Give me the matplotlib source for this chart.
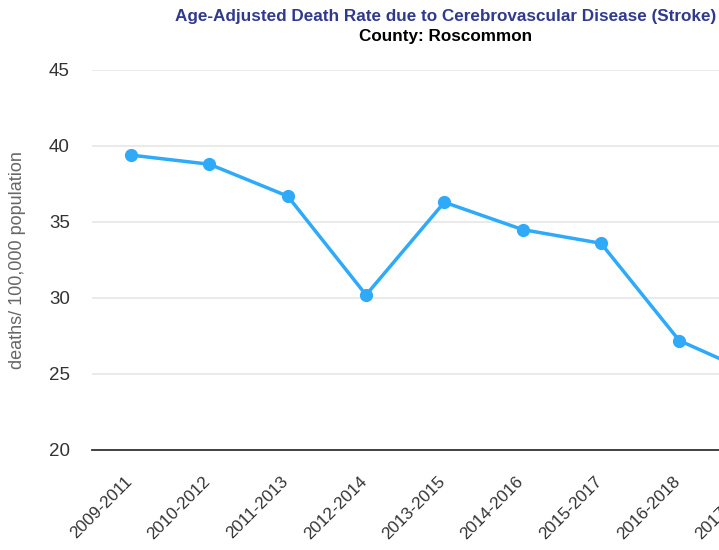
import matplotlib
matplotlib.use("Agg")
import matplotlib.pyplot as plt
from matplotlib.transforms import ScaledTranslation

categories = ["2009-2011", "2010-2012", "2011-2013", "2012-2014", "2013-2015",
              "2014-2016", "2015-2017", "2016-2018", "2017-2019"]
rates = [39.4, 38.8, 36.7, 30.2, 36.3, 34.5, 33.6, 27.2, 24.9]
yticks = [20, 25, 30, 35, 40, 45]

plt.rcParams['font.family'] = ['Liberation Sans', 'DejaVu Sans']

W, H = 719, 550
fig = plt.figure(figsize=(W / 100, H / 100), dpi=100)
fig.patch.set_facecolor('white')

left_px, right_px = 92, 92 + 78.3 * len(categories)
top_px, bottom_px = 70, 450
ax_w = right_px - left_px
ax = fig.add_axes([left_px / W, 1 - bottom_px / H,
                   ax_w / W, (bottom_px - top_px) / H])

x = list(range(len(categories)))
ax.plot(x, rates, color='#2EAAF8', lw=2.5, marker='o', ms=9.5,
        markeredgewidth=0, zorder=3, clip_on=True)

ax.set_xlim(-0.5, len(categories) - 0.5)
ax.set_ylim(20, 45)
ax.set_yticks(yticks)
ax.yaxis.grid(True, color='#e6e6e6', lw=1.2)
ax.set_axisbelow(True)
for s in ['top', 'right', 'left']:
    ax.spines[s].set_visible(False)
ax.spines['bottom'].set_color('#333333')
ax.spines['bottom'].set_linewidth(1.3)
ax.tick_params(axis='y', length=0, pad=16, labelsize=13.5, labelcolor='#333333')
ax.tick_params(axis='x', length=0, pad=8, labelsize=12.3, labelcolor='#333333')
ax.set_xticks(x)
ax.set_xticklabels(categories, rotation=45, ha='right', va='top',
                   rotation_mode='anchor')
shift = ScaledTranslation(-7 / 100, -13 / 100, fig.dpi_scale_trans)
for lbl in ax.get_xticklabels():
    lbl.set_transform(lbl.get_transform() + shift)

ax.set_ylabel('deaths/ 100,000 population', fontsize=13, color='#666666')
ax.yaxis.set_label_coords((26 - left_px) / ax_w, 0.5)

fig.text(446 / W, 1 - 17 / H,
         'Age-Adjusted Death Rate due to Cerebrovascular Disease (Stroke)',
         ha='center', va='center', fontsize=12.3, fontweight='bold', color='#2F3A8F')
fig.text(446 / W, 1 - 36 / H, 'County: Roscommon', ha='center', va='center',
         fontsize=12.3, fontweight='bold', color='#000000')

fig.savefig('out.png', dpi=100)
